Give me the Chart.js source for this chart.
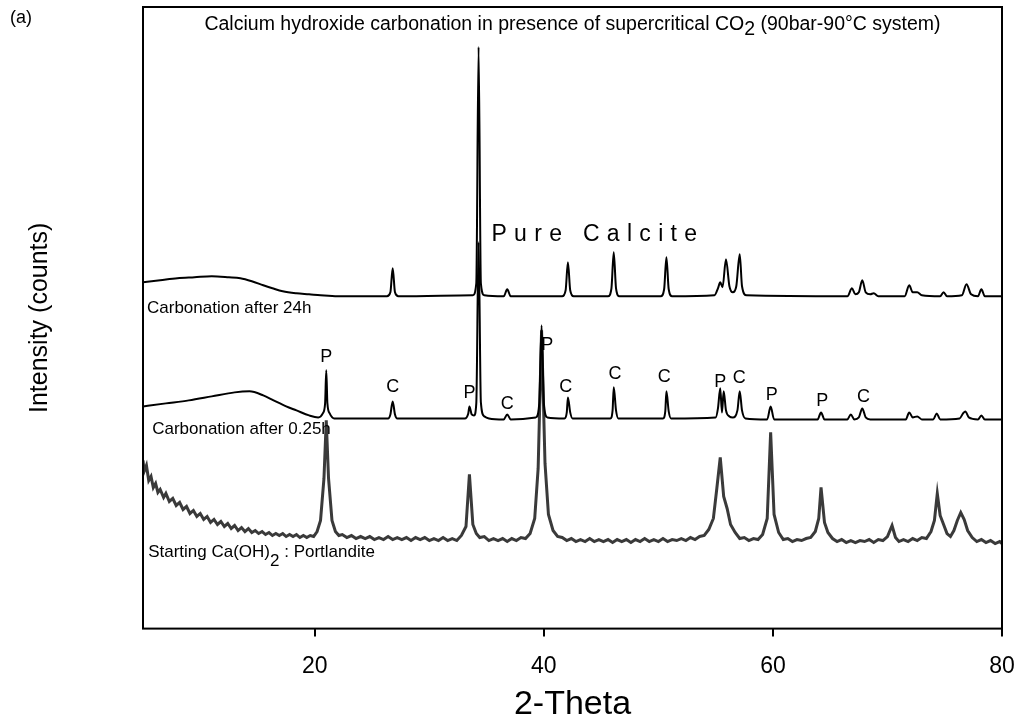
<!DOCTYPE html>
<html>
<head>
<meta charset="utf-8">
<script src="https://cdn.jsdelivr.net/npm/chart.js@4.4.1/dist/chart.umd.min.js"></script>
<style>
  body { margin: 0; background: #fff; }
  canvas { display: block; }
</style>
</head>
<body>
<canvas id="xrdChart" width="1021" height="728"></canvas>
<script>
// 2-theta positions and intensities (arbitrary counts, patterns stacked)
const after24hTheta = [5.0, 6.5, 8.0, 9.5, 11.0, 12.5, 13.5, 14.5, 15.5, 16.3, 17.2, 18.4, 19.5, 20.5, 22.0,
  26.3, 26.6, 26.8, 27.0, 27.3, 33.8, 34.1, 34.3, 34.5, 34.8, 36.5, 36.8, 37.1,
  41.6, 41.9, 42.1, 42.3, 42.6, 45.6, 45.9, 46.1, 46.3, 46.6, 50.2, 50.5, 50.7, 50.9, 51.2,
  54.9, 55.2, 55.4, 55.6, 55.9, 56.2, 56.5, 56.8, 57.1, 57.3, 57.7,
  66.5, 66.9, 67.2, 67.5, 67.8, 68.1, 68.5, 68.8, 69.2, 71.5, 71.9, 72.2, 72.6, 73.0,
  74.6, 74.9, 75.2, 76.5, 76.9, 77.3, 77.9, 78.2, 78.5, 80.0];
const after24hCounts = [346, 348, 350, 351, 352, 351, 350, 347, 343, 340, 337, 335, 334, 333, 332,
  332, 336, 360, 336, 332, 333, 345, 581, 345, 333, 332, 339, 332,
  332, 338, 366, 338, 332, 332, 340, 376, 340, 332, 332, 339, 371, 339, 332,
  333, 340, 346, 341, 369, 342, 336, 342, 374, 342, 333,
  332, 340, 334, 336, 348, 336, 334, 335, 332, 332, 343, 336, 336, 333,
  332, 336, 332, 333, 344, 334, 332, 339, 332, 332];

const after025hTheta = [5.0, 7.0, 9.0, 11.0, 13.0, 14.3, 15.5, 16.4, 17.5, 18.4, 19.5, 20.3,
  20.7, 20.9, 21.0, 21.1, 21.3, 21.7, 26.4, 26.6, 26.8, 27.0, 27.2,
  33.1, 33.4, 33.5, 33.7, 33.9, 34.1, 34.3, 34.5, 34.8, 35.2, 36.5, 36.8, 37.1,
  39.3, 39.6, 39.8, 40.0, 40.3, 41.8, 42.0, 42.1, 42.3, 42.5, 45.8, 46.0, 46.1, 46.3, 46.5,
  50.4, 50.6, 50.7, 50.9, 51.1, 55.0, 55.2, 55.4, 55.55, 55.7, 55.9, 56.2, 56.5, 56.9, 57.1, 57.3, 57.6,
  59.5, 59.8, 60.1, 63.9, 64.2, 64.5, 66.5, 66.8, 67.1, 67.5, 67.8, 68.1, 68.5,
  71.6, 71.9, 72.2, 72.6, 73.0, 74.0, 74.3, 74.6, 76.3, 76.6, 76.8, 77.1, 77.9, 78.2, 78.5, 80.0];
const after025hCounts = [222, 225, 228, 232, 236, 237, 233, 228, 222, 218, 213, 211,
  215, 225, 258, 225, 215, 210, 210, 214, 227, 214, 210,
  210, 215, 222, 214, 213, 225, 386, 226, 212, 210, 209, 214, 209,
  211, 225, 303, 225, 211, 210, 216, 231, 216, 210, 210, 218, 241, 218, 210,
  210, 217, 237, 217, 210, 211, 220, 240, 216, 237, 218, 212, 211, 218, 237, 218, 210,
  209, 222, 209, 209, 216, 209, 209, 214, 209, 211, 220, 211, 209,
  209, 216, 211, 212, 209, 209, 215, 209, 210, 215, 217, 211, 209, 213, 209, 209];

const portlanditeTheta = [5.0, 5.1, 5.3, 5.5, 5.7, 5.9, 6.1, 6.3, 6.5, 6.8, 7.0, 7.3, 7.6, 7.9, 8.2, 8.5, 8.8,
  9.1, 9.4, 9.7, 10.0, 10.3, 10.6, 10.9, 11.2, 11.5, 11.8, 12.1, 12.4, 12.7, 13.0, 13.3, 13.6, 13.9,
  14.2, 14.5, 14.8, 15.1, 15.4, 15.7, 16.0, 16.3, 16.6, 16.9, 17.2, 17.5, 17.8, 18.1, 18.4, 18.7,
  19.0, 19.3, 19.6, 19.9, 20.2, 20.5, 20.8, 21.0, 21.2, 21.5, 21.8, 22.1,
  22.4, 22.8, 23.2, 23.6, 24.0, 24.4, 24.8, 25.2, 25.6, 26.0, 26.4, 26.8, 27.2, 27.6, 28.0, 28.4,
  28.8, 29.2, 29.6, 30.0, 30.4, 30.8, 31.2, 31.6, 32.0, 32.4, 32.8, 33.2, 33.5, 33.8, 34.1, 34.4,
  34.8, 35.2, 35.6, 36.0, 36.4, 36.8, 37.2, 37.6, 38.0, 38.4, 38.8, 39.2, 39.5, 39.8, 40.1, 40.4,
  40.8, 41.2, 41.6, 42.0, 42.4, 42.8, 43.2, 43.6, 44.0, 44.4, 44.8, 45.2, 45.6, 46.0, 46.4, 46.8,
  47.2, 47.6, 48.0, 48.4, 48.8, 49.2, 49.6, 50.0, 50.4, 50.8, 51.2, 51.6, 52.0, 52.4, 52.8, 53.2,
  53.6, 54.0, 54.4, 54.8, 55.1, 55.4, 55.7, 56.0, 56.3, 56.7, 57.1, 57.5, 57.9, 58.3, 58.7, 59.1,
  59.5, 59.8, 60.1, 60.5, 60.9, 61.3, 61.7, 62.1, 62.5, 62.9, 63.3, 63.7, 64.0, 64.2, 64.5, 64.8,
  65.2, 65.6, 66.0, 66.4, 66.8, 67.2, 67.6, 68.0, 68.4, 68.8, 69.2, 69.6, 70.0, 70.4, 70.7, 71.0,
  71.4, 71.8, 72.2, 72.6, 73.0, 73.4, 73.8, 74.1, 74.35, 74.6, 74.9, 75.2, 75.5, 75.8, 76.1, 76.4,
  76.7, 77.0, 77.4, 77.8, 78.2, 78.6, 79.0, 79.4, 79.8, 80.0];
const portlanditeCounts = [168, 157, 163, 148, 152, 141, 145, 136, 139, 131, 135, 127, 130, 123, 126, 119, 122,
  115, 118, 112, 115, 109, 112, 106, 109, 104, 107, 102, 105, 100, 103, 98, 101, 97,
  100, 96, 98, 95, 97, 94, 96, 93, 95, 93, 95, 92, 94, 92, 94, 91,
  93, 91, 93, 92, 97, 108, 150, 208, 150, 108, 97, 93,
  94, 91, 93, 90, 92, 90, 92, 89, 91, 89, 92, 89, 91, 89, 91, 88,
  91, 89, 91, 88, 90, 88, 91, 88, 90, 88, 93, 102, 154, 104, 95, 91,
  92, 88, 90, 88, 90, 87, 90, 88, 91, 90, 95, 110, 160, 298, 165, 114,
  98, 92, 91, 88, 90, 87, 89, 87, 90, 87, 89, 87, 89, 86, 89, 87,
  89, 86, 89, 87, 90, 87, 89, 87, 90, 87, 89, 88, 90, 88, 91, 89,
  92, 93, 99, 110, 140, 171, 132, 120, 104, 96, 90, 91, 88, 90, 89, 94,
  110, 196, 114, 96, 89, 90, 87, 89, 88, 90, 91, 97, 110, 141, 106, 96,
  90, 87, 89, 86, 88, 86, 88, 87, 89, 86, 89, 88, 92, 103, 91, 87,
  89, 87, 90, 88, 91, 90, 97, 108, 135, 113, 104, 95, 92, 98, 108, 116,
  109, 98, 91, 87, 89, 86, 88, 85, 87, 85];

const xTickValues = [20, 40, 60, 80];

// phase markers: P = portlandite, C = calcite
const phaseLetters = ['P', 'C', 'P', 'C', 'P', 'C', 'C', 'C', 'P', 'C', 'P', 'P', 'C'];
const phaseTheta = [21.0, 26.8, 33.5, 36.8, 40.3, 41.9, 46.2, 50.5, 55.4, 57.05, 59.9, 64.3, 67.9];
const phaseLevel = [271, 241, 235, 224, 283, 241, 254, 251, 246, 250, 233, 227, 231];

function toPoints(xs, ys) {
  return xs.map((x, i) => ({ x: x, y: ys[i] }));
}

function drawParts(ctx, parts, x, y) {
  parts.forEach(([text, dy]) => {
    ctx.fillText(text, x, y + dy);
    x += ctx.measureText(text).width;
  });
}

function partsWidth(ctx, parts) {
  return parts.reduce((w, p) => w + ctx.measureText(p[0]).width, 0);
}

const labelsPlugin = {
  id: 'xrdLabels',
  afterDatasetsDraw(chart) {
    const { ctx, chartArea, scales } = chart;
    const x = scales.x, y = scales.y;
    ctx.save();
    ctx.strokeStyle = '#000';
    ctx.lineWidth = 2;
    ctx.strokeRect(chartArea.left, chartArea.top, chartArea.right - chartArea.left, chartArea.bottom - chartArea.top);

    ctx.fillStyle = '#000';
    ctx.textBaseline = 'middle';

    // title inside the frame
    ctx.font = '19.5px "Liberation Sans", Arial, sans-serif';
    const titleParts = [['Calcium hydroxide carbonation in presence of supercritical CO', 0], ['2', 5], [' (90bar-90°C system)', 0]];
    const tw = partsWidth(ctx, titleParts);
    drawParts(ctx, titleParts, (chartArea.left + chartArea.right) / 2 - tw / 2, chartArea.top + 18);

    ctx.font = '18px "Liberation Sans", Arial, sans-serif';
    ctx.fillText('(a)', 10, 18);

    // P / C markers
    ctx.textAlign = 'center';
    ctx.font = '18px "Liberation Sans", Arial, sans-serif';
    phaseLetters.forEach((l, i) => {
      ctx.fillText(l, x.getPixelForValue(phaseTheta[i]), y.getPixelForValue(phaseLevel[i]));
    });

    // "Pure Calcite" with wide letter spacing
    ctx.font = '23px "Liberation Sans", Arial, sans-serif';
    ctx.textAlign = 'left';
    const word = 'Pure Calcite';
    const spacing = 7.3;
    const ww = ctx.measureText(word).width + spacing * (word.length - 1);
    let px = x.getPixelForValue(44.4) - ww / 2;
    const py = y.getPixelForValue(394);
    for (const ch of word) {
      ctx.fillText(ch, px, py);
      px += ctx.measureText(ch).width + spacing;
    }

    // sample names
    ctx.font = '17px "Liberation Sans", Arial, sans-serif';
    ctx.fillText('Carbonation after 24h', x.getPixelForValue(5.35), y.getPixelForValue(319.5));
    ctx.fillText('Carbonation after 0.25h', x.getPixelForValue(5.8), y.getPixelForValue(199));
    drawParts(ctx, [['Starting Ca(OH)', 0], ['2', 9], [' : Portlandite', 0]], x.getPixelForValue(5.45), y.getPixelForValue(76));
    ctx.restore();
  }
};

Chart.defaults.font.family = '"Liberation Sans", Arial, sans-serif';
Chart.defaults.color = '#000';

new Chart(document.getElementById('xrdChart'), {
  type: 'line',
  data: {
    datasets: [
      {
        label: 'Carbonation after 24h',
        data: toPoints(after24hTheta, after24hCounts),
        borderColor: '#000',
        borderWidth: 2,
        cubicInterpolationMode: 'monotone',
        pointRadius: 0
      },
      {
        label: 'Carbonation after 0.25h',
        data: toPoints(after025hTheta, after025hCounts),
        borderColor: '#000',
        borderWidth: 2,
        cubicInterpolationMode: 'monotone',
        pointRadius: 0
      },
      {
        label: 'Starting Ca(OH)2 : Portlandite',
        data: toPoints(portlanditeTheta, portlanditeCounts),
        borderColor: '#3a3a3a',
        borderWidth: 3,
        pointRadius: 0
      }
    ]
  },
  options: {
    responsive: false,
    animation: false,
    layout: { padding: { left: 0, top: 7, right: 19, bottom: 0 } },
    plugins: { legend: { display: false }, tooltip: { enabled: false } },
    scales: {
      x: {
        type: 'linear',
        min: 5,
        max: 80,
        afterBuildTicks: axis => { axis.ticks = xTickValues.map(v => ({ value: v })); },
        afterFit: axis => { axis.paddingLeft = 0; axis.paddingRight = 0; },
        ticks: { font: { size: 23 }, padding: 16, maxRotation: 0, autoSkip: false },
        grid: { drawOnChartArea: false, drawTicks: true, tickLength: 8, color: '#000', lineWidth: 2 },
        border: { display: false },
        title: { display: true, text: '2-Theta', font: { size: 34 }, padding: { top: -12, bottom: 3 } }
      },
      y: {
        min: 0,
        max: 621,
        ticks: { display: false },
        grid: { display: false, drawTicks: false },
        border: { display: false },
        title: { display: true, text: 'Intensity (counts)', font: { size: 25 }, padding: { top: 25, bottom: 88 } }
      }
    }
  },
  plugins: [labelsPlugin]
});
</script>
</body>
</html>
